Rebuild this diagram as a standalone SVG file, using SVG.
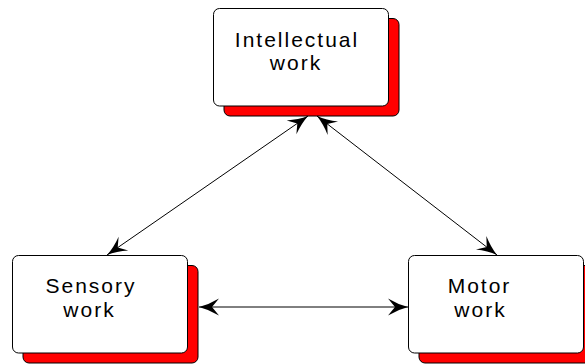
<svg xmlns="http://www.w3.org/2000/svg" width="585" height="364" viewBox="0 0 585 364">
  <style>
    .shadow { fill: #ff0000; stroke: #000; stroke-width: 1; }
    .box { fill: #fff; stroke: #000; stroke-width: 1; }
    .label { font-family: "Liberation Sans", Arial, sans-serif; font-size: 21px; letter-spacing: 2px; fill: #000; text-anchor: middle; }
    .link { stroke: #000; stroke-width: 1; fill: none; marker-start: url(#head); marker-end: url(#head); }
  </style>
  <defs>
    <marker id="head" viewBox="-21 -10 22 20" refX="0" refY="0" markerWidth="22" markerHeight="20" markerUnits="userSpaceOnUse" orient="auto-start-reverse">
      <path d="M0,0 Q-10,-2.5 -20,-8.5 L-13,0 L-20,8.5 Q-10,2.5 0,0 Z" fill="#000"/>
    </marker>
  </defs>

  <g id="intellectual">
    <rect class="shadow" x="224" y="18.5" width="175" height="97.5" rx="6"/>
    <rect class="box" x="213.5" y="8.5" width="175" height="97.5" rx="6"/>
    <text class="label"><tspan x="297" y="46.5">Intellectual</tspan><tspan x="296" y="70">work</tspan></text>
  </g>

  <g id="sensory">
    <rect class="shadow" x="23" y="265.5" width="175" height="97.5" rx="6"/>
    <rect class="box" x="12.5" y="255.5" width="175" height="97.5" rx="6"/>
    <text class="label"><tspan x="91" y="293">Sensory</tspan><tspan x="89.5" y="316.5">work</tspan></text>
  </g>

  <g id="motor">
    <rect class="shadow" x="419" y="265.5" width="175" height="97.5" rx="6"/>
    <rect class="box" x="408.5" y="255.5" width="175" height="97.5" rx="6"/>
    <text class="label"><tspan x="479.5" y="293">Motor</tspan><tspan x="480.5" y="316.5">work</tspan></text>
  </g>

  <g id="connectors">
    <line class="link" x1="308" y1="116" x2="107" y2="255"/>
    <line class="link" x1="317" y1="116" x2="497" y2="255"/>
    <line class="link" x1="199" y1="307" x2="408" y2="307"/>
  </g>
</svg>
